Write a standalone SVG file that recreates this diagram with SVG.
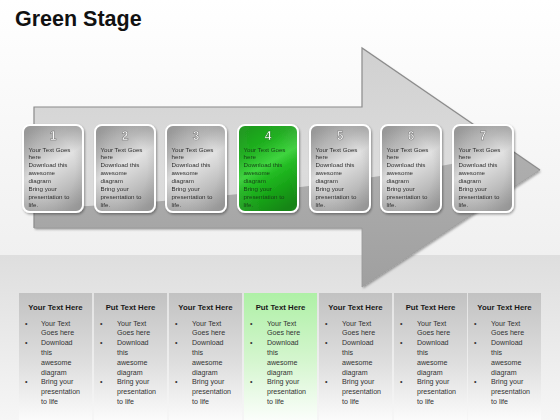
<svg xmlns="http://www.w3.org/2000/svg" width="560" height="420" viewBox="0 0 560 420">
<defs>
<linearGradient id="bgTop" x1="0" y1="0" x2="0" y2="1">
<stop offset="0" stop-color="#ffffff"/><stop offset="1" stop-color="#f0f0f0"/>
</linearGradient>
<linearGradient id="band" x1="0" y1="0" x2="0" y2="1">
<stop offset="0" stop-color="#dedede"/><stop offset="0.35" stop-color="#e6e6e6"/><stop offset="1" stop-color="#f6f6f6"/>
</linearGradient>
<linearGradient id="colGray" x1="0" y1="0" x2="0" y2="1">
<stop offset="0" stop-color="#c2c2c2"/><stop offset="0.55" stop-color="#dedede"/><stop offset="1" stop-color="#fbfbfb"/>
</linearGradient>
<linearGradient id="colGreen" x1="0" y1="0" x2="0" y2="1">
<stop offset="0" stop-color="#aef0a6"/><stop offset="0.55" stop-color="#d6f6d0"/><stop offset="1" stop-color="#fbfefb"/>
</linearGradient>
<linearGradient id="arrowLight" x1="0" y1="0" x2="0" y2="1">
<stop offset="0" stop-color="#d0d0d0"/><stop offset="0.5" stop-color="#dcdcdc"/><stop offset="1" stop-color="#d2d2d2"/>
</linearGradient>
<linearGradient id="arrowDark" x1="0" y1="0" x2="0" y2="1">
<stop offset="0" stop-color="#b0b0b0"/><stop offset="1" stop-color="#9e9e9e"/>
</linearGradient>
<linearGradient id="cardGray" x1="0.3" y1="0" x2="0.7" y2="1">
<stop offset="0" stop-color="#a4a4a4"/><stop offset="0.22" stop-color="#bababa"/><stop offset="0.45" stop-color="#e2e2e2"/><stop offset="0.58" stop-color="#d4d4d4"/><stop offset="1" stop-color="#a2a2a2"/>
</linearGradient>
<radialGradient id="cardEdge" cx="0.5" cy="0.5" r="0.7">
<stop offset="0.55" stop-color="#888" stop-opacity="0"/><stop offset="1" stop-color="#777" stop-opacity="0.35"/>
</radialGradient>
<linearGradient id="cardGreen" x1="0.3" y1="0" x2="0.7" y2="1">
<stop offset="0" stop-color="#14a014"/><stop offset="0.22" stop-color="#20b020"/><stop offset="0.45" stop-color="#3fd43f"/><stop offset="0.58" stop-color="#22bb22"/><stop offset="1" stop-color="#0a860a"/>
</linearGradient>
<clipPath id="arrowClip">
<polygon points="34,107 362,107 362,48 540,170 362,287 362,228 34,228"/>
</clipPath>
<filter id="shadow" x="-20%" y="-20%" width="140%" height="140%">
<feDropShadow dx="1" dy="1.5" stdDeviation="1.2" flood-color="#000" flood-opacity="0.35"/>
</filter>
</defs>
<style>
.title{font-family:"Liberation Sans",Arial,sans-serif;font-weight:bold;font-size:21.5px;fill:#111}
.card{stroke:#ffffff;stroke-width:2}
.edge{fill:url(#cardEdge)}
.num{font-family:"Liberation Sans",Arial,sans-serif;font-weight:bold;font-size:12px;fill:#ffffff;stroke:#6e6e6e;stroke-width:0.5;text-anchor:middle}
.ct{font-family:"Liberation Sans",Arial,sans-serif;font-size:6.2px;fill:#2e2e2e}
.ctg{font-family:"Liberation Sans",Arial,sans-serif;font-size:6.2px;fill:#174517}
.hd{font-family:"Liberation Sans",Arial,sans-serif;font-weight:bold;font-size:7.8px;fill:#1a1a1a;text-anchor:middle}
.bt{font-family:"Liberation Sans",Arial,sans-serif;font-size:7.1px;fill:#333333}
</style>

<rect x="0" y="0" width="560" height="255" fill="url(#bgTop)"/>
<rect x="0" y="255" width="560" height="165" fill="url(#band)"/>

<text class="title" x="15" y="26">Green Stage</text>

<g id="backbone-arrow">
<polygon points="34,107 362,107 362,48 540,170 362,287 362,228 34,228" fill="url(#arrowLight)" filter="url(#shadow)"/>
<path d="M20,209 Q300,200 560,142 L560,300 L20,300 Z" fill="url(#arrowDark)" clip-path="url(#arrowClip)"/>
<polyline points="34,228 34,107 362,107 362,48 540,170" fill="none" stroke="#8c8c8c" stroke-width="1.2"/>
<polyline points="540,170 362,287 362,228 34,228" fill="none" stroke="#999999" stroke-width="0.8"/>
</g>

<g id="card1" filter="url(#shadow)">
<rect class="card" x="23" y="125" width="60" height="87" rx="7" fill="url(#cardGray)"/>
<rect class="edge" x="24" y="126" width="58" height="85" rx="6"/>
<text class="num" x="53" y="140">1</text>
<text class="ct" x="28.5" y="151.5"><tspan x="28.5">Your Text Goes</tspan><tspan x="28.5" dy="7.93">here</tspan><tspan x="28.5" dy="7.93">Download this</tspan><tspan x="28.5" dy="7.93">awesome</tspan><tspan x="28.5" dy="7.93">diagram</tspan><tspan x="28.5" dy="7.93">Bring your</tspan><tspan x="28.5" dy="7.93">presentation to</tspan><tspan x="28.5" dy="7.93">life.</tspan></text>
</g>
<g id="card2" filter="url(#shadow)">
<rect class="card" x="95" y="125" width="60" height="87" rx="7" fill="url(#cardGray)"/>
<rect class="edge" x="96" y="126" width="58" height="85" rx="6"/>
<text class="num" x="125" y="140">2</text>
<text class="ct" x="100.5" y="151.5"><tspan x="100.5">Your Text Goes</tspan><tspan x="100.5" dy="7.93">here</tspan><tspan x="100.5" dy="7.93">Download this</tspan><tspan x="100.5" dy="7.93">awesome</tspan><tspan x="100.5" dy="7.93">diagram</tspan><tspan x="100.5" dy="7.93">Bring your</tspan><tspan x="100.5" dy="7.93">presentation to</tspan><tspan x="100.5" dy="7.93">life.</tspan></text>
</g>
<g id="card3" filter="url(#shadow)">
<rect class="card" x="166" y="125" width="60" height="87" rx="7" fill="url(#cardGray)"/>
<rect class="edge" x="167" y="126" width="58" height="85" rx="6"/>
<text class="num" x="196" y="140">3</text>
<text class="ct" x="171.5" y="151.5"><tspan x="171.5">Your Text Goes</tspan><tspan x="171.5" dy="7.93">here</tspan><tspan x="171.5" dy="7.93">Download this</tspan><tspan x="171.5" dy="7.93">awesome</tspan><tspan x="171.5" dy="7.93">diagram</tspan><tspan x="171.5" dy="7.93">Bring your</tspan><tspan x="171.5" dy="7.93">presentation to</tspan><tspan x="171.5" dy="7.93">life.</tspan></text>
</g>
<g id="card4" filter="url(#shadow)">
<rect class="card" x="238" y="125" width="60" height="87" rx="7" fill="url(#cardGreen)"/>
<rect class="edge" x="239" y="126" width="58" height="85" rx="6" style="opacity:0.5"/>
<text class="num" x="268" y="140" style="stroke:#1f7a1f">4</text>
<text class="ctg" x="243.5" y="151.5"><tspan x="243.5">Your Text Goes</tspan><tspan x="243.5" dy="7.93">here</tspan><tspan x="243.5" dy="7.93">Download this</tspan><tspan x="243.5" dy="7.93">awesome</tspan><tspan x="243.5" dy="7.93">diagram</tspan><tspan x="243.5" dy="7.93">Bring your</tspan><tspan x="243.5" dy="7.93">presentation to</tspan><tspan x="243.5" dy="7.93">life.</tspan></text>
</g>
<g id="card5" filter="url(#shadow)">
<rect class="card" x="310" y="125" width="60" height="87" rx="7" fill="url(#cardGray)"/>
<rect class="edge" x="311" y="126" width="58" height="85" rx="6"/>
<text class="num" x="340" y="140">5</text>
<text class="ct" x="315.5" y="151.5"><tspan x="315.5">Your Text Goes</tspan><tspan x="315.5" dy="7.93">here</tspan><tspan x="315.5" dy="7.93">Download this</tspan><tspan x="315.5" dy="7.93">awesome</tspan><tspan x="315.5" dy="7.93">diagram</tspan><tspan x="315.5" dy="7.93">Bring your</tspan><tspan x="315.5" dy="7.93">presentation to</tspan><tspan x="315.5" dy="7.93">life.</tspan></text>
</g>
<g id="card6" filter="url(#shadow)">
<rect class="card" x="381" y="125" width="60" height="87" rx="7" fill="url(#cardGray)"/>
<rect class="edge" x="382" y="126" width="58" height="85" rx="6"/>
<text class="num" x="411" y="140">6</text>
<text class="ct" x="386.5" y="151.5"><tspan x="386.5">Your Text Goes</tspan><tspan x="386.5" dy="7.93">here</tspan><tspan x="386.5" dy="7.93">Download this</tspan><tspan x="386.5" dy="7.93">awesome</tspan><tspan x="386.5" dy="7.93">diagram</tspan><tspan x="386.5" dy="7.93">Bring your</tspan><tspan x="386.5" dy="7.93">presentation to</tspan><tspan x="386.5" dy="7.93">life.</tspan></text>
</g>
<g id="card7" filter="url(#shadow)">
<rect class="card" x="453" y="125" width="60" height="87" rx="7" fill="url(#cardGray)"/>
<rect class="edge" x="454" y="126" width="58" height="85" rx="6"/>
<text class="num" x="483" y="140">7</text>
<text class="ct" x="458.5" y="151.5"><tspan x="458.5">Your Text Goes</tspan><tspan x="458.5" dy="7.93">here</tspan><tspan x="458.5" dy="7.93">Download this</tspan><tspan x="458.5" dy="7.93">awesome</tspan><tspan x="458.5" dy="7.93">diagram</tspan><tspan x="458.5" dy="7.93">Bring your</tspan><tspan x="458.5" dy="7.93">presentation to</tspan><tspan x="458.5" dy="7.93">life.</tspan></text>
</g>

<g id="col1">
<rect x="19" y="293" width="73" height="127" fill="url(#colGray)"/>
<text class="hd" x="55.5" y="309.5">Your Text Here</text>
<text class="bt" y="325.5"><tspan x="25">•</tspan><tspan x="25" dy="19.6">•</tspan><tspan x="25" dy="39.2">•</tspan></text>
<text class="bt" y="325.5"><tspan x="41">Your Text</tspan><tspan x="41" dy="9.8">Goes here</tspan><tspan x="41" dy="9.8">Download</tspan><tspan x="41" dy="9.8">this</tspan><tspan x="41" dy="9.8">awesome</tspan><tspan x="41" dy="9.8">diagram</tspan><tspan x="41" dy="9.8">Bring your</tspan><tspan x="41" dy="9.8">presentation</tspan><tspan x="41" dy="9.8">to life</tspan></text>
</g>
<g id="col2">
<rect x="94" y="293" width="73" height="127" fill="url(#colGray)"/>
<text class="hd" x="130.5" y="309.5">Put Text Here</text>
<text class="bt" y="325.5"><tspan x="100">•</tspan><tspan x="100" dy="19.6">•</tspan><tspan x="100" dy="39.2">•</tspan></text>
<text class="bt" y="325.5"><tspan x="117">Your Text</tspan><tspan x="117" dy="9.8">Goes here</tspan><tspan x="117" dy="9.8">Download</tspan><tspan x="117" dy="9.8">this</tspan><tspan x="117" dy="9.8">awesome</tspan><tspan x="117" dy="9.8">diagram</tspan><tspan x="117" dy="9.8">Bring your</tspan><tspan x="117" dy="9.8">presentation</tspan><tspan x="117" dy="9.8">to life</tspan></text>
</g>
<g id="col3">
<rect x="169" y="293" width="73" height="127" fill="url(#colGray)"/>
<text class="hd" x="205.5" y="309.5">Your Text Here</text>
<text class="bt" y="325.5"><tspan x="175">•</tspan><tspan x="175" dy="19.6">•</tspan><tspan x="175" dy="39.2">•</tspan></text>
<text class="bt" y="325.5"><tspan x="192">Your Text</tspan><tspan x="192" dy="9.8">Goes here</tspan><tspan x="192" dy="9.8">Download</tspan><tspan x="192" dy="9.8">this</tspan><tspan x="192" dy="9.8">awesome</tspan><tspan x="192" dy="9.8">diagram</tspan><tspan x="192" dy="9.8">Bring your</tspan><tspan x="192" dy="9.8">presentation</tspan><tspan x="192" dy="9.8">to life</tspan></text>
</g>
<g id="col4">
<rect x="244" y="293" width="73" height="127" fill="url(#colGreen)"/>
<text class="hd" x="280.5" y="309.5">Put Text Here</text>
<text class="bt" y="325.5"><tspan x="250">•</tspan><tspan x="250" dy="19.6">•</tspan><tspan x="250" dy="39.2">•</tspan></text>
<text class="bt" y="325.5"><tspan x="267">Your Text</tspan><tspan x="267" dy="9.8">Goes here</tspan><tspan x="267" dy="9.8">Download</tspan><tspan x="267" dy="9.8">this</tspan><tspan x="267" dy="9.8">awesome</tspan><tspan x="267" dy="9.8">diagram</tspan><tspan x="267" dy="9.8">Bring your</tspan><tspan x="267" dy="9.8">presentation</tspan><tspan x="267" dy="9.8">to life</tspan></text>
</g>
<g id="col5">
<rect x="319" y="293" width="73" height="127" fill="url(#colGray)"/>
<text class="hd" x="355.5" y="309.5">Your Text Here</text>
<text class="bt" y="325.5"><tspan x="325">•</tspan><tspan x="325" dy="19.6">•</tspan><tspan x="325" dy="39.2">•</tspan></text>
<text class="bt" y="325.5"><tspan x="342">Your Text</tspan><tspan x="342" dy="9.8">Goes here</tspan><tspan x="342" dy="9.8">Download</tspan><tspan x="342" dy="9.8">this</tspan><tspan x="342" dy="9.8">awesome</tspan><tspan x="342" dy="9.8">diagram</tspan><tspan x="342" dy="9.8">Bring your</tspan><tspan x="342" dy="9.8">presentation</tspan><tspan x="342" dy="9.8">to life</tspan></text>
</g>
<g id="col6">
<rect x="394" y="293" width="73" height="127" fill="url(#colGray)"/>
<text class="hd" x="430.5" y="309.5">Put Text Here</text>
<text class="bt" y="325.5"><tspan x="400">•</tspan><tspan x="400" dy="19.6">•</tspan><tspan x="400" dy="39.2">•</tspan></text>
<text class="bt" y="325.5"><tspan x="417">Your Text</tspan><tspan x="417" dy="9.8">Goes here</tspan><tspan x="417" dy="9.8">Download</tspan><tspan x="417" dy="9.8">this</tspan><tspan x="417" dy="9.8">awesome</tspan><tspan x="417" dy="9.8">diagram</tspan><tspan x="417" dy="9.8">Bring your</tspan><tspan x="417" dy="9.8">presentation</tspan><tspan x="417" dy="9.8">to life</tspan></text>
</g>
<g id="col7">
<rect x="468" y="293" width="73" height="127" fill="url(#colGray)"/>
<text class="hd" x="504.5" y="309.5">Your Text Here</text>
<text class="bt" y="325.5"><tspan x="474">•</tspan><tspan x="474" dy="19.6">•</tspan><tspan x="474" dy="39.2">•</tspan></text>
<text class="bt" y="325.5"><tspan x="491">Your Text</tspan><tspan x="491" dy="9.8">Goes here</tspan><tspan x="491" dy="9.8">Download</tspan><tspan x="491" dy="9.8">this</tspan><tspan x="491" dy="9.8">awesome</tspan><tspan x="491" dy="9.8">diagram</tspan><tspan x="491" dy="9.8">Bring your</tspan><tspan x="491" dy="9.8">presentation</tspan><tspan x="491" dy="9.8">to life</tspan></text>
</g>
</svg>
